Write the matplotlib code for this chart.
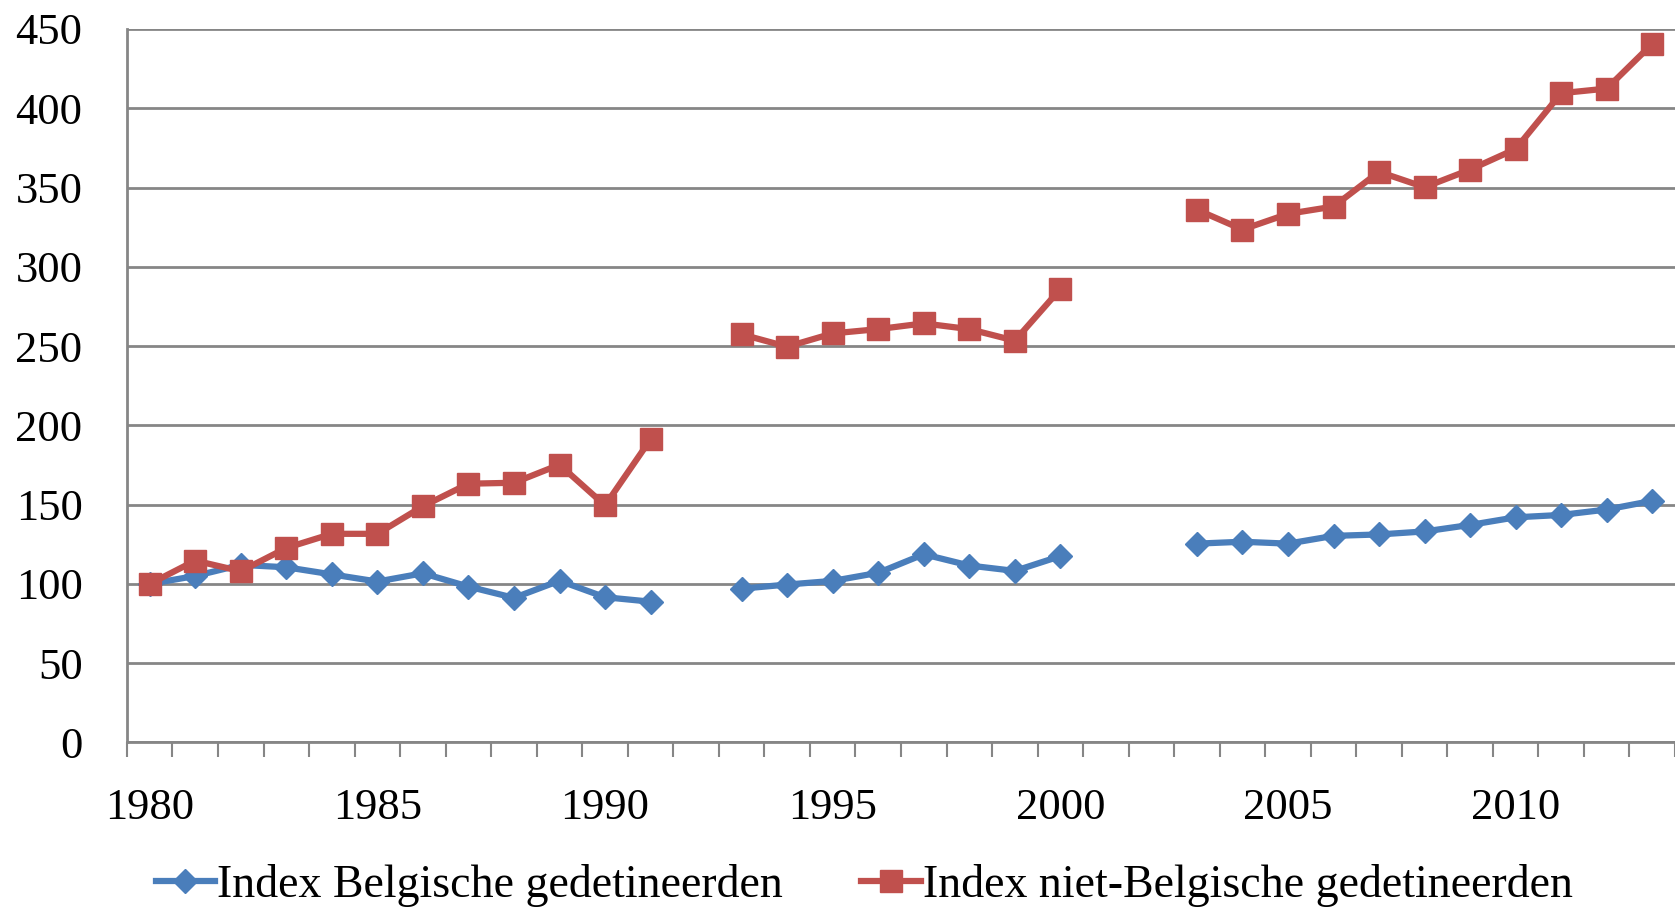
import numpy as np
import matplotlib
matplotlib.use("Agg")
import matplotlib.pyplot as plt

plt.rcParams['font.family'] = ['Liberation Serif', 'DejaVu Serif']

years = list(range(1980, 2014))
nan = np.nan

belgisch = [100, 105, 112, 110.5, 106, 101.5, 106.7, 98.3, 91.2, 102, 91.6, 88.8,
            nan, 97, 99.6, 101.9, 107, 118.7, 111.6, 108.2, 117.5,
            nan, nan, 125.4, 126.6, 125.4, 130.3, 131.2, 133.1, 137.2, 142, 143.5, 146.9, 152.4]
niet_belgisch = [100, 114.7, 108, 122.7, 131.6, 131.6, 149, 163.2, 163.8, 175.2, 149.5, 191.2,
                 nan, 257.4, 249.6, 258, 260.7, 264.3, 260.7, 253.4, 286,
                 nan, nan, 336, 323.5, 333.4, 338, 359.9, 350.2, 361.3, 374.3, 409.5, 412.4, 440.6]

labels = ["Index Belgische gedetineerden", "Index niet-Belgische gedetineerden"]
blue = "#4A7EBB"
red = "#C0504D"
grid_col = "#868686"

fig = plt.figure(figsize=(16.75, 9.08), dpi=100)
ax = fig.add_axes([0.0758, 0.1823, 0.9242, 0.7858])

x = np.arange(len(years))
ax.plot(x, belgisch, color=blue, lw=4.5, marker="D", ms=12, label=labels[0], zorder=3)
ax.plot(x, niet_belgisch, color=red, lw=4.5, marker="s", ms=16, label=labels[1], zorder=4)

ax.set_xlim(-0.5, len(years) - 0.5)
ax.set_ylim(0, 450)
ax.set_yticks(np.arange(0, 451, 50))
ax.yaxis.grid(True, color=grid_col, lw=2)
ax.set_axisbelow(True)

major = [i for i, y in enumerate(years) if y % 5 == 0]
ax.set_xticks(major)
ax.set_xticklabels([str(years[i]) for i in major])
ax.set_xticks(np.arange(-0.5, len(years)), minor=True)
ax.tick_params(axis="x", which="major", length=0, pad=33, labelsize=32)
ax.tick_params(axis="x", which="minor", length=11, width=1.5, color=grid_col, direction="out")
ax.tick_params(axis="y", length=0, pad=32, labelsize=32)

for s in ["top", "right"]:
    ax.spines[s].set_visible(False)
for s in ["left", "bottom"]:
    ax.spines[s].set_color(grid_col)
    ax.spines[s].set_linewidth(2)

fig.legend(loc="center", bbox_to_anchor=(0.516, 0.025), ncol=2, frameon=False,
           fontsize=33, handlelength=1.3, handletextpad=0.05, columnspacing=1.7,
           borderaxespad=0)

fig.savefig("out.png", dpi=100)
